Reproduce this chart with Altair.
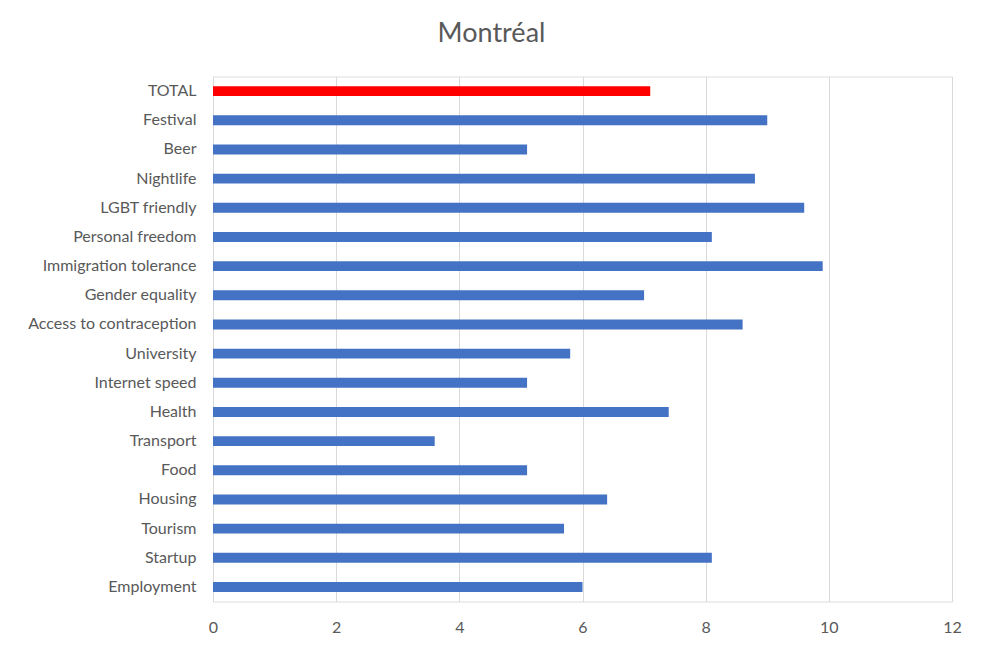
import altair as alt
import pandas as pd

categories = ["TOTAL", "Festival", "Beer", "Nightlife", "LGBT friendly", "Personal freedom",
              "Immigration tolerance", "Gender equality", "Access to contraception", "University",
              "Internet speed", "Health", "Transport", "Food", "Housing", "Tourism", "Startup",
              "Employment"]
values = [7.1, 9.0, 5.1, 8.8, 9.6, 8.1, 9.9, 7.0, 8.6, 5.8, 5.1, 7.4, 3.6, 5.1, 6.4, 5.7, 8.1, 6.0]
groups = ["total"] + ["item"] * (len(categories) - 1)

df = pd.DataFrame({"category": categories, "value": values, "group": groups})

FONT = "Lato"
TEXT = "#595959"

chart = alt.Chart(df).mark_bar().encode(
    y=alt.Y("category:N", sort=categories,
            scale=alt.Scale(paddingInner=0.66, paddingOuter=0.33),
            axis=alt.Axis(title=None, domain=False, ticks=False, grid=False,
                          labelFont=FONT, labelFontSize=16, labelColor=TEXT,
                          labelPadding=17, labelLimit=300)),
    x=alt.X("value:Q", scale=alt.Scale(domain=[0, 12], nice=False),
            axis=alt.Axis(title=None, domain=False, ticks=False, values=[0, 2, 4, 6, 8, 10, 12],
                          gridColor="#d9d9d9", gridWidth=1, labelFlush=False,
                          labelFont=FONT, labelFontSize=16, labelColor=TEXT,
                          labelPadding=18)),
    color=alt.Color("group:N", scale=alt.Scale(domain=["total", "item"], range=["#FF0000", "#4472C4"]),
                    legend=None),
).properties(
    width=739,
    height=525,
    title=alt.TitleParams("Montréal", font=FONT, fontSize=27, fontWeight="normal",
                          color=TEXT, offset=29, dx=-91, anchor="middle"),
    autosize=alt.AutoSizeParams(type="none"),
    padding={"left": 205, "top": 68.5, "right": 23, "bottom": 42.5},
).configure_view(stroke=None).configure(background="white")

chart.save("out.html", embed_options={"renderer": "svg", "actions": False})
